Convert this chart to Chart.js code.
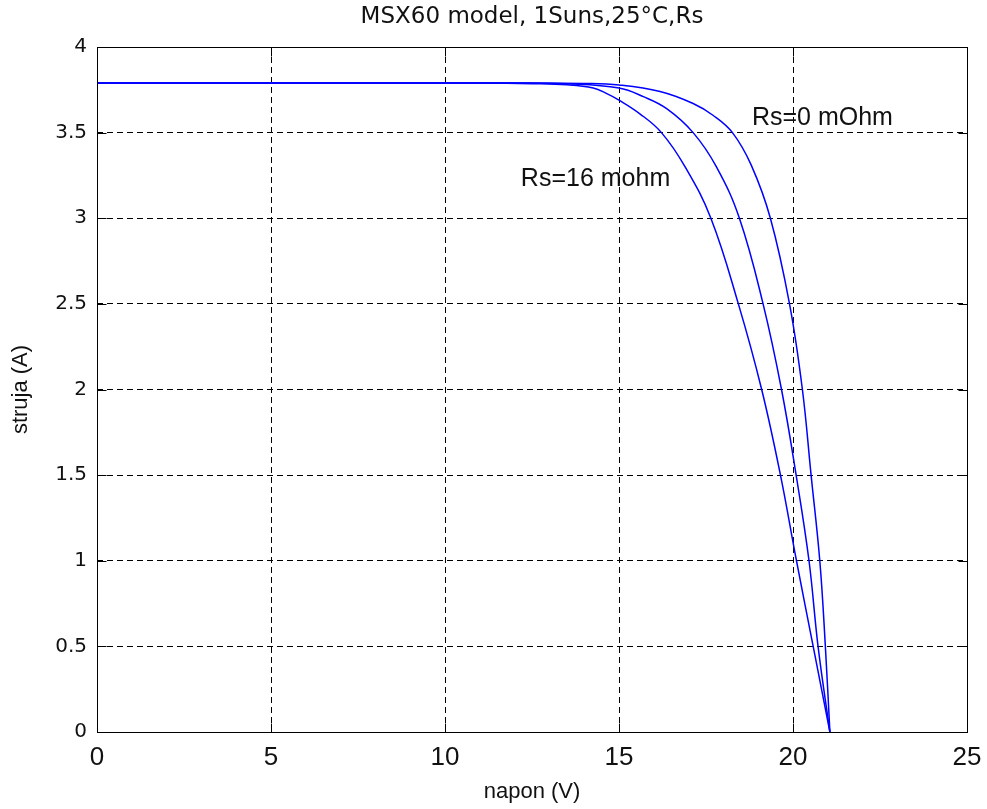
<!DOCTYPE html>
<html>
<head>
<meta charset="utf-8">
<script src="https://cdn.jsdelivr.net/npm/chart.js@4.4.1/dist/chart.umd.min.js"></script>
<style>
  body { margin: 0; background: #fff; }
</style>
</head>
<body>
<canvas id="iv" width="987" height="809"></canvas>
<script>
// I-V curves, napon (V) vs struja (A)
const rs0V  = [0, 3, 6, 9, 12, 14, 15, 16.18, 17.13, 17.71, 18.26, 18.8, 19.35, 19.9, 20.27, 20.52, 20.77, 20.93, 21.06]
const rs0I  = [3.79, 3.79, 3.79, 3.79, 3.79, 3.787, 3.778, 3.74, 3.67, 3.60, 3.50, 3.31, 3.00, 2.50, 2.00, 1.50, 1.00, 0.50, 0]

const rs8V  = [0, 3, 6, 9, 12, 13.5, 15, 15.70, 16.37, 17.13, 17.8, 18.46, 19.14, 19.67, 20.09, 20.46, 20.72, 21.06]
const rs8I  = [3.79, 3.79, 3.79, 3.79, 3.79, 3.785, 3.76, 3.71, 3.64, 3.50, 3.30, 3.00, 2.50, 2.00, 1.50, 1.00, 0.50, 0]

const rs16V = [0, 3, 6, 9, 11, 12.5, 13.5, 14.26, 14.65, 15, 15.6, 16.22, 16.9, 17.64, 18.43, 19.10, 19.64, 20.10, 20.58, 21.06]
const rs16I = [3.79, 3.79, 3.79, 3.79, 3.79, 3.786, 3.779, 3.76, 3.728, 3.69, 3.61, 3.50, 3.30, 3.00, 2.50, 2.00, 1.50, 1.00, 0.50, 0]

const xTicks = [0, 5, 10, 15, 20, 25]
const yTicks = [0, 0.5, 1, 1.5, 2, 2.5, 3, 3.5, 4]

const titleText = 'MSX60 model, 1Suns,25°C,Rs'

// text labels, anchored in data units (left edge, middle)
const noteText = ['Rs=0 mOhm', 'Rs=16 mohm']
const noteV    = [18.82, 12.18]
const noteI    = [3.585, 3.23]

const pts = (vs, is) => vs.map((v, k) => ({x: v, y: is[k]}))

const curve = (vs, is) => ({
    data: pts(vs, is),
    borderColor: '#0000ff',
    borderWidth: 1.5,
    pointRadius: 0,
    fill: false,
    tension: 0.4
})

// matlab style box with inward ticks, title over the axes, text labels
const boxPlugin = {
    id: 'box',
    afterDatasetsDraw(chart) {
        const {ctx, chartArea: a, scales: {x, y}} = chart
        const L = Math.round(a.left) + 0.5, R = Math.round(a.right) + 0.5
        const T = Math.round(a.top) + 0.5, B = Math.round(a.bottom) + 0.5
        ctx.save()
        ctx.strokeStyle = '#000'
        ctx.lineWidth = 1
        ctx.setLineDash([])
        ctx.strokeRect(L, T, R - L, B - T)
        const tl = 9
        ctx.beginPath()
        xTicks.forEach(v => {
            const px = Math.round(x.getPixelForValue(v)) + 0.5
            ctx.moveTo(px, B); ctx.lineTo(px, B - tl)
            ctx.moveTo(px, T); ctx.lineTo(px, T + tl)
        })
        yTicks.forEach(v => {
            const py = Math.round(y.getPixelForValue(v)) + 0.5
            ctx.moveTo(L, py); ctx.lineTo(L + tl, py)
            ctx.moveTo(R, py); ctx.lineTo(R - tl, py)
        })
        ctx.stroke()

        ctx.fillStyle = '#111'
        ctx.textBaseline = 'middle'
        ctx.textAlign = 'center'
        ctx.font = '23px "DejaVu Sans", sans-serif'
        ctx.fillText(titleText, (a.left + a.right) / 2, a.top - 30)

        ctx.font = '25px "Liberation Sans", Arial, sans-serif'
        ctx.textAlign = 'left'
        noteText.forEach((t, k) => {
            ctx.fillText(t, x.getPixelForValue(noteV[k]), y.getPixelForValue(noteI[k]))
        })
        ctx.restore()
    }
}

const gridOpts = {color: '#000', lineWidth: 1, drawTicks: false}

new Chart(document.getElementById('iv'), {
    type: 'line',
    data: {
        datasets: [curve(rs0V, rs0I), curve(rs8V, rs8I), curve(rs16V, rs16I)]
    },
    options: {
        responsive: false,
        animation: false,
        layout: {padding: {top: 47, right: 20}},
        plugins: {
            legend: {display: false},
            tooltip: {enabled: false},
            title: {display: false}
        },
        scales: {
            x: {
                type: 'linear',
                min: 0, max: 25,
                afterBuildTicks: s => { s.ticks = xTicks.map(v => ({value: v})) },
                afterFit: s => { s.height = 77; s.paddingLeft = 0; s.paddingRight = 0 },
                grid: gridOpts,
                border: {display: false, dash: [6, 4]},
                ticks: {
                    color: '#111',
                    padding: 10,
                    maxRotation: 0,
                    callback: v => String(v),
                    font: {family: '"Liberation Sans", Arial, sans-serif', size: 26}
                },
                title: {
                    display: true,
                    text: 'napon (V)',
                    color: '#111',
                    font: {family: '"Liberation Sans", Arial, sans-serif', size: 22},
                    padding: {top: 0, bottom: 4}
                }
            },
            y: {
                type: 'linear',
                min: 0, max: 4,
                afterBuildTicks: s => { s.ticks = yTicks.map(v => ({value: v})) },
                afterFit: s => { s.width = 97; s.paddingTop = 0; s.paddingBottom = 0 },
                grid: gridOpts,
                border: {display: false, dash: [6, 4]},
                ticks: {
                    color: '#111',
                    padding: 10,
                    callback: v => String(v),
                    font: {family: '"DejaVu Sans", sans-serif', size: 20}
                },
                title: {
                    display: true,
                    text: 'struja (A)',
                    color: '#111',
                    font: {family: '"Liberation Sans", Arial, sans-serif', size: 22},
                    padding: {top: 8, bottom: 0}
                }
            }
        }
    },
    plugins: [boxPlugin]
})
</script>
</body>
</html>
